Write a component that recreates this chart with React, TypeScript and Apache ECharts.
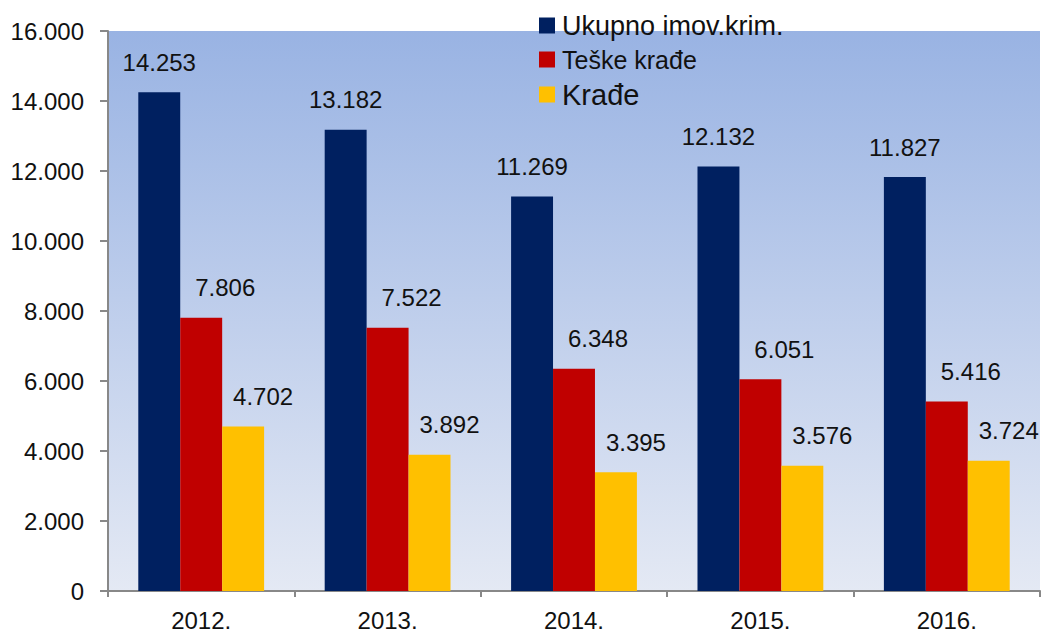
import React, { useEffect, useRef } from "react";
import * as echarts from "echarts";

const categories = ["2012.", "2013.", "2014.", "2015.", "2016."];
const ukupno = [14253, 13182, 11269, 12132, 11827];
const teske = [7806, 7522, 6348, 6051, 5416];
const krade = [4702, 3892, 3395, 3576, 3724];
const seriesNames = ["Ukupno imov.krim.", "Teške krađe", "Krađe"];
const yTicks = { min: 0, max: 16000, interval: 2000 };

const fmt = (v: number) => {
  const s = Math.round(v).toString();
  return s.replace(/\B(?=(\d{3})+(?!\d))/g, ".");
};

export default function App() {
  const ref = useRef<HTMLDivElement>(null);
  useEffect(() => {
    if (!ref.current) return;
    const chart = echarts.init(ref.current, undefined, { renderer: "svg" });
    const font = "Liberation Sans, Arial, sans-serif";
    const mkLabel = (dx: number) => ({
      show: true,
      position: "top" as const,
      distance: 18,
      offset: [dx, 0],
      fontSize: 24,
      fontFamily: font,
      color: "#111",
      formatter: (p: any) => fmt(p.value),
    });
    chart.setOption({
      animation: false,
      backgroundColor: "#fff",
      grid: {
        left: 108,
        right: 3,
        top: 31,
        bottom: 43,
        show: true,
        borderWidth: 0,
        backgroundColor: new echarts.graphic.LinearGradient(0, 0, 0, 1, [
          { offset: 0, color: "#99b3e3" },
          { offset: 1, color: "#e4e9f4" },
        ]),
      },
      legend: {
        orient: "vertical",
        left: 534,
        top: 7,
        itemWidth: 16,
        itemHeight: 16,
        itemGap: 8,
        icon: "rect",
        textStyle: { fontSize: 27, fontFamily: font, color: "#111", padding: [0, 0, 0, 2] },
        data: [
          { name: seriesNames[0] },
          { name: seriesNames[1], textStyle: { fontSize: 25 } },
          { name: seriesNames[2], textStyle: { fontSize: 29 } },
        ],
      },
      xAxis: {
        type: "category",
        data: categories,
        axisLine: { lineStyle: { color: "#888", width: 2 } },
        axisTick: { show: true, length: 6, lineStyle: { color: "#888", width: 2 } },
        axisLabel: { fontSize: 24, fontFamily: font, color: "#111", margin: 17 },
      },
      yAxis: {
        type: "value",
        min: yTicks.min,
        max: yTicks.max,
        interval: yTicks.interval,
        axisLine: { show: true, lineStyle: { color: "#888", width: 2 } },
        axisTick: { show: true, length: 8, lineStyle: { color: "#888", width: 2 } },
        splitLine: { show: false },
        axisLabel: {
          fontSize: 24,
          fontFamily: font,
          color: "#111",
          margin: 24,
          formatter: (v: number) => fmt(v),
        },
      },
      series: [
        {
          name: seriesNames[0],
          type: "bar",
          data: ukupno,
          barWidth: "22.5%",
          barGap: "0%",
          itemStyle: { color: "#002060" },
          label: mkLabel(0),
        },
        {
          name: seriesNames[1],
          type: "bar",
          data: teske,
          barWidth: "22.5%",
          barGap: "0%",
          itemStyle: { color: "#c00000" },
          label: mkLabel(24),
        },
        {
          name: seriesNames[2],
          type: "bar",
          data: krade,
          barWidth: "22.5%",
          barGap: "0%",
          itemStyle: { color: "#ffc000" },
          label: mkLabel(20),
        },
      ],
    });
    return () => chart.dispose();
  }, []);
  return (
    <div
      ref={ref}
      style={{ position: "absolute", left: 0, top: 0, width: 1043, height: 634 }}
    />
  );
}
